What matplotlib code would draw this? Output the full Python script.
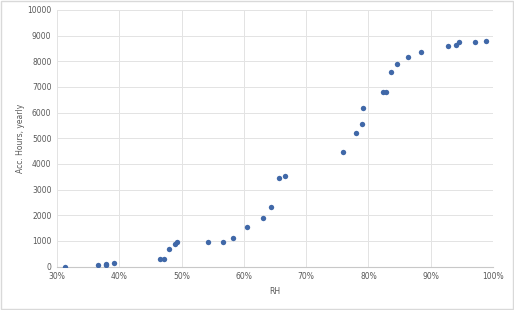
import matplotlib
matplotlib.use('Agg')
import matplotlib.pyplot as plt
from matplotlib.patches import Rectangle
from matplotlib.ticker import FuncFormatter

# relative humidity (%) and accumulated hours per year
rh = [31.2, 36.6, 37.9, 37.9, 39.1, 46.6, 47.1, 48.0, 49.0, 49.3,
      54.3, 56.6, 58.3, 60.5, 63.1, 64.3, 65.7, 66.6, 75.9, 78.0,
      78.9, 79.2, 82.4, 82.9, 83.7, 84.6, 86.3, 88.4, 92.8, 94.0,
      94.6, 97.2, 98.9]
hours = [0, 50, 105, 50, 130, 300, 300, 700, 890, 960,
         970, 970, 1100, 1540, 1890, 2310, 3450, 3520, 4450, 5200,
         5540, 6170, 6800, 6800, 7600, 7880, 8160, 8380, 8610, 8640,
         8760, 8760, 8780]

x_ticks = [30, 40, 50, 60, 70, 80, 90, 100]
y_ticks = list(range(0, 10001, 1000))

fig = plt.figure(figsize=(5.14, 3.10), dpi=100)
ax = fig.add_axes([0.111, 0.140, 0.848, 0.828])

ax.scatter(rh, hours, s=15, color='#4068A8', zorder=3, linewidths=0)

ax.set_xlim(30, 100)
ax.set_ylim(0, 10000)
ax.set_xticks(x_ticks)
ax.set_yticks(y_ticks)
ax.xaxis.set_major_formatter(FuncFormatter(lambda v, p: '%d%%' % v))
ax.grid(True, color='#E3E3E3', linewidth=0.7)
ax.set_axisbelow(True)
for side in ['top', 'right', 'left']:
    ax.spines[side].set_visible(False)
ax.spines['bottom'].set_color('#C8C8C8')
ax.tick_params(length=0, labelsize=5.5, colors='#595959', pad=4)

ax.set_xlabel('RH', fontsize=5.5, color='#595959', labelpad=4)
ax.set_ylabel('Acc. Hours, yearly', fontsize=5.5, color='#595959', labelpad=1.5)

# chart border
fig.patches.append(Rectangle((0.002, 0.003), 0.996, 0.994, transform=fig.transFigure,
                             fill=False, edgecolor='#D9D9D9', linewidth=1))

fig.savefig('out.png', dpi=100)
